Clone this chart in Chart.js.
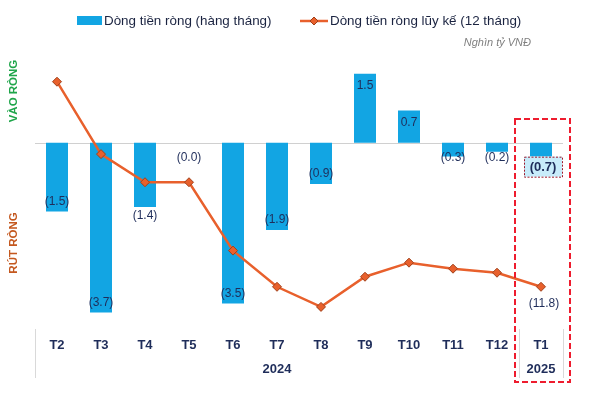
<!DOCTYPE html>
<html>
<head>
<meta charset="utf-8">
<script src="https://cdn.jsdelivr.net/npm/chart.js@4/dist/chart.umd.min.js"></script>
<style>
  body { margin: 0; background: #fff; }
  #wrap { width: 610px; height: 394px; }
</style>
</head>
<body>
<div id="wrap"><canvas id="flowChart" width="610" height="394"></canvas></div>
<script>
// Data (nghìn tỷ VNĐ)
const months = ['T2', 'T3', 'T4', 'T5', 'T6', 'T7', 'T8', 'T9', 'T10', 'T11', 'T12', 'T1'];
const monthlyFlow = [-1.5, -3.7, -1.4, 0.0, -3.5, -1.9, -0.9, 1.5, 0.7, -0.3, -0.2, -0.3];
const monthlyText = ['(1.5)', '(3.7)', '(1.4)', '(0.0)', '(3.5)', '(1.9)', '(0.9)', '1.5', '0.7', '(0.3)', '(0.2)', '(0.7)'];
const cumulativeFlow = [-1.6, -5.2, -6.6, -6.6, -10.0, -11.8, -12.8, -11.3, -10.6, -10.9, -11.1, -11.8];
const cumulativeText = ['', '', '', '', '', '', '', '', '', '', '', '(11.8)'];
const yearLabels = ['2024', '2025'];
const yearFirst = [0, 11];
const yearLast = [10, 11];

const NAVY = '#1F2D5A';
const BLUE = '#12A5E3';
const ORANGE = '#E8602C';
const FONT = "'Liberation Sans', Arial, sans-serif";

Chart.defaults.font.family = FONT;

// labels, legend, side captions, separators and highlight box
const decorations = {
    id: 'decorations',
    beforeDatasetsDraw(chart) {
        const ctx = chart.ctx;
        const area = chart.chartArea;
        const y0 = chart.scales.y.getPixelForValue(0);
        ctx.save();
        ctx.strokeStyle = '#D0D0D0';
        ctx.lineWidth = 1;
        ctx.beginPath();
        ctx.moveTo(area.left, Math.round(y0) + 0.5);
        ctx.lineTo(area.right, Math.round(y0) + 0.5);
        ctx.stroke();
        ctx.restore();
    },
    afterDatasetsDraw(chart) {
        const ctx = chart.ctx;
        const x = chart.scales.x;
        const y = chart.scales.y;
        const y0 = y.getPixelForValue(0);
        const bars = chart.getDatasetMeta(0).data;
        const pts = chart.getDatasetMeta(1).data;
        const last = monthlyFlow.length - 1;
        ctx.save();
        ctx.textAlign = 'center';
        ctx.textBaseline = 'middle';

        // bar labels
        ctx.font = '12px ' + FONT;
        ctx.fillStyle = NAVY;
        monthlyFlow.forEach((v, i) => {
            if (i === last) return;
            const end = y.getPixelForValue(v);
            let ly;
            if (Math.abs(v) < 0.5) ly = y0 + 15;
            else if (i === 2) ly = end + 9;
            else ly = v > 0 ? end + 12 : end - 10;
            ctx.fillText(monthlyText[i], bars[i].x, ly);
        });

        // boxed label for the last month
        const lx = bars[last].x + 2;
        const lyy = y0 + 24;
        ctx.fillStyle = '#C8ECFA';
        ctx.fillRect(lx - 19, lyy - 10, 38, 20);
        ctx.setLineDash([2, 1.5]);
        ctx.strokeStyle = '#A0182A';
        ctx.lineWidth = 1;
        ctx.strokeRect(lx - 19 + 0.5, lyy - 10 + 0.5, 38, 20);
        ctx.setLineDash([]);
        ctx.font = 'bold 13px ' + FONT;
        ctx.fillStyle = NAVY;
        ctx.fillText(monthlyText[last], lx, lyy + 1);

        // cumulative labels
        ctx.font = '12px ' + FONT;
        cumulativeText.forEach((t, i) => {
            if (!t) return;
            ctx.fillText(t, pts[i].x + 3, pts[i].y + 17);
        });

        // year row
        ctx.font = 'bold 13px ' + FONT;
        yearLabels.forEach((t, k) => {
            const cx = (x.getPixelForValue(yearFirst[k]) + x.getPixelForValue(yearLast[k])) / 2;
            ctx.fillText(t, cx, 369);
        });

        // separators in the axis area
        ctx.strokeStyle = '#D9D9D9';
        ctx.lineWidth = 1;
        const half = (x.getPixelForValue(1) - x.getPixelForValue(0)) / 2;
        [x.getPixelForValue(0) - half, x.getPixelForValue(last) - half, x.getPixelForValue(last) + half].forEach(sx => {
            ctx.beginPath();
            ctx.moveTo(Math.round(sx) + 0.5, 329);
            ctx.lineTo(Math.round(sx) + 0.5, 378);
            ctx.stroke();
        });

        // red dashed highlight
        ctx.strokeStyle = '#EE1C2E';
        ctx.lineWidth = 2;
        ctx.setLineDash([6, 3]);
        ctx.strokeRect(x.getPixelForValue(last) - 26, 119, 55, 263);
        ctx.setLineDash([]);

        // side captions
        ctx.font = 'bold 11.5px ' + FONT;
        ctx.save();
        ctx.translate(14, 91);
        ctx.rotate(-Math.PI / 2);
        ctx.fillStyle = '#1FA54A';
        ctx.fillText('VÀO RÒNG', 0, 0);
        ctx.restore();
        ctx.save();
        ctx.translate(14, 243);
        ctx.rotate(-Math.PI / 2);
        ctx.fillStyle = '#C4581F';
        ctx.fillText('RÚT RÒNG', 0, 0);
        ctx.restore();

        // legend
        ctx.textAlign = 'left';
        ctx.font = '13.4px ' + FONT;
        ctx.fillStyle = BLUE;
        ctx.fillRect(77, 16, 25, 9);
        ctx.fillStyle = '#1A2340';
        ctx.fillText('Dòng tiền ròng (hàng tháng)', 104, 21);
        ctx.strokeStyle = ORANGE;
        ctx.lineWidth = 2.5;
        ctx.beginPath();
        ctx.moveTo(300, 21);
        ctx.lineTo(328, 21);
        ctx.stroke();
        ctx.fillStyle = ORANGE;
        ctx.strokeStyle = '#A0401A';
        ctx.lineWidth = 1;
        ctx.beginPath();
        ctx.moveTo(314, 17); ctx.lineTo(318, 21); ctx.lineTo(314, 25); ctx.lineTo(310, 21); ctx.closePath();
        ctx.fill();
        ctx.stroke();
        ctx.fillStyle = '#1A2340';
        ctx.fillText('Dòng tiền ròng lũy kế (12 tháng)', 330, 21);

        ctx.textAlign = 'right';
        ctx.font = 'italic 11px ' + FONT;
        ctx.fillStyle = '#7F7F7F';
        ctx.fillText('Nghìn tỷ VNĐ', 531, 43);
        ctx.restore();
    }
};

new Chart(document.getElementById('flowChart'), {
    type: 'bar',
    data: {
        labels: months,
        datasets: [{
            type: 'bar',
            label: 'Dòng tiền ròng (hàng tháng)',
            data: monthlyFlow,
            backgroundColor: BLUE,
            barPercentage: 0.5,
            categoryPercentage: 1.0,
            yAxisID: 'y',
            order: 2
        }, {
            type: 'line',
            label: 'Dòng tiền ròng lũy kế (12 tháng)',
            data: cumulativeFlow,
            borderColor: ORANGE,
            borderWidth: 2.5,
            pointStyle: 'rectRot',
            pointRadius: 4.5,
            pointBackgroundColor: ORANGE,
            pointBorderColor: '#A0401A',
            pointBorderWidth: 1,
            tension: 0,
            yAxisID: 'y2',
            order: 1
        }]
    },
    options: {
        responsive: false,
        animation: false,
        layout: { padding: { left: 35, right: 47, top: 60, bottom: 30 } },
        plugins: {
            legend: { display: false },
            tooltip: { enabled: false }
        },
        scales: {
            x: {
                grid: { display: false, drawTicks: false },
                border: { display: false },
                ticks: { color: NAVY, font: { size: 13, weight: 'bold' }, padding: 11, maxRotation: 0 }
            },
            y: { display: false, min: -4.0, max: 1.8 },
            y2: { display: false, min: -13.77, max: -0.52 }
        }
    },
    plugins: [decorations]
});
</script>
</body>
</html>
